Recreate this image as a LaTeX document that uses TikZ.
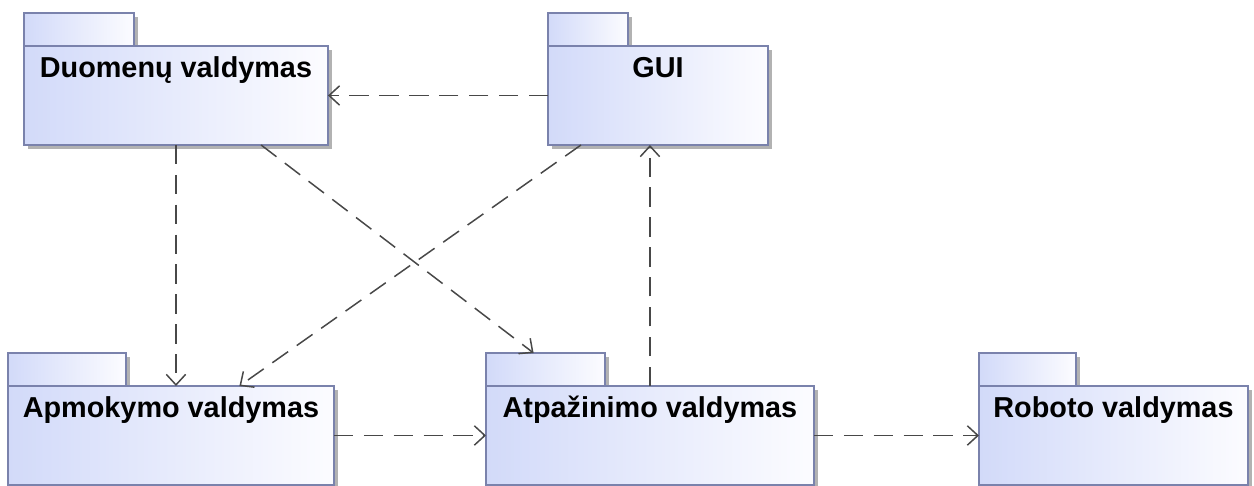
\documentclass[tikz,border=0pt]{standalone}
\usepackage{fontspec}
\setmainfont{Liberation Sans}
\usetikzlibrary{arrows.meta,shadows,calc}
\definecolor{pkgline}{RGB}{122,130,172}
\definecolor{pkgblue}{RGB}{210,218,249}
\definecolor{pkgwhite}{RGB}{252,252,255}
\definecolor{depgray}{RGB}{72,72,72}
\begin{document}
\begin{tikzpicture}[x=0.02cm,y=-0.02cm]
\tikzstyle{pkgbody}=[draw=pkgline,line width=0.9pt,rectangle,anchor=north west,inner sep=0pt,outer sep=0pt,minimum height=1.98cm,left color=pkgblue,right color=pkgwhite,drop shadow={shadow xshift=2.2pt,shadow yshift=-2.2pt,fill=black,opacity=0.3}]
\tikzstyle{pkgtab}=[pkgbody,anchor=south west,minimum height=0.66cm]
\tikzstyle{pkgname}=[anchor=base,inner sep=0pt,yshift=-0.64cm,font=\fontsize{16.4}{20}\selectfont\bfseries]
\tikzstyle{dep}=[draw=depgray,line width=0.85pt,dash pattern=on 11pt off 6pt,-{Straight Barb[length=6pt,width=11pt]}]
\useasboundingbox (0,0) rectangle (1254,486);
% tabs first, so the bodies sit on top of their shadows
\node[pkgtab,minimum width=2.2cm] (duomtab) at (24,46) {};
\node[pkgtab,minimum width=1.6cm] (guitab) at (548,46) {};
\node[pkgtab,minimum width=2.36cm] (apmtab) at (8,386) {};
\node[pkgtab,minimum width=2.38cm] (atptab) at (486,386) {};
\node[pkgtab,minimum width=1.94cm] (robtab) at (979,386) {};
% package bodies
\node[pkgbody,minimum width=6.08cm,label={[pkgname]north:Duomenų valdymas}] (duom) at (24,46) {};
\node[pkgbody,minimum width=4.4cm,label={[pkgname]north:GUI}] (gui) at (548,46) {};
\node[pkgbody,minimum width=6.52cm,label={[pkgname]north:Apmokymo valdymas}] (apm) at (8,386) {};
\node[pkgbody,minimum width=6.56cm,label={[pkgname]north:Atpažinimo valdymas}] (atp) at (486,386) {};
\node[pkgbody,minimum width=5.38cm,label={[pkgname]north:Roboto valdymas}] (rob) at (979,386) {};
% dependencies
\draw[dep] (gui.west) -- (duom.east);
\draw[dep] (duom.south) -- (duom.south |- apm.north);
\draw[dep] ($(duom.south west)!0.78!(duom.south east)$) -- ($(atptab.north west)!0.4!(atptab.north east)$);
\draw[dep] ($(gui.south west)!0.15!(gui.south east)$) -- ($(apm.north west)!0.71!(apm.north east)$);
\draw[dep] (atp.north) -- (atp.north |- gui.south);
\draw[dep] (apm.east) -- (atp.west);
\draw[dep] (atp.east) -- (rob.west);
\end{tikzpicture}
\end{document}
